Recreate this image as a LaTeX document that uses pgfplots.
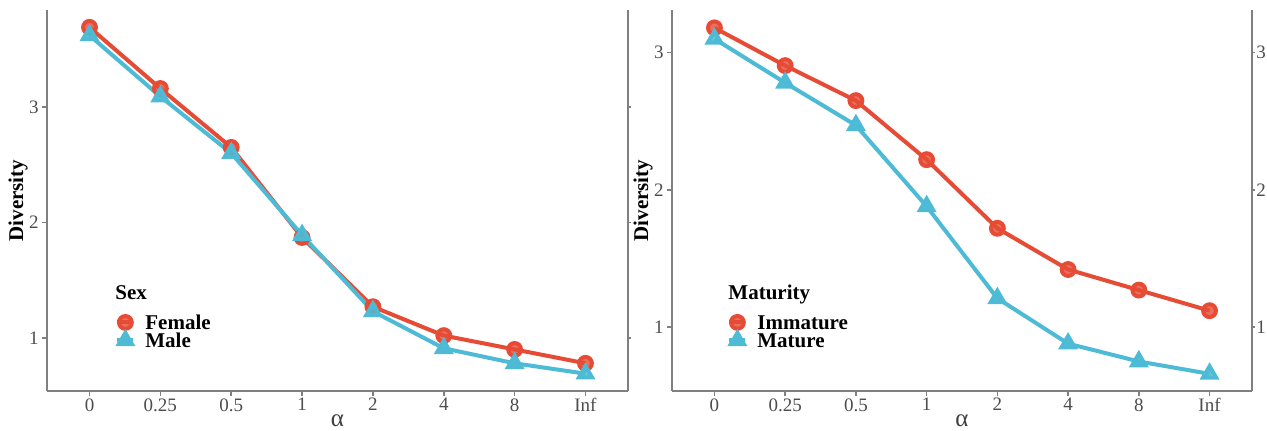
\documentclass[border=0pt]{standalone}
\usepackage{fontspec}
\setmainfont{Liberation Serif}
\usepackage{pgfplots}
\pgfplotsset{compat=1.18}
\definecolor{npgred}{HTML}{E64B35}
\definecolor{npgblue}{HTML}{4DBBD5}
\definecolor{axgray}{HTML}{808080}
\definecolor{tickgray}{HTML}{4D4D4D}

\pgfplotsset{
  common/.style={
    scale only axis, height=190.5pt,
    xmin=-0.6, xmax=7.6,
    tick align=outside, major tick length=2.5pt,
    axis line style={axgray, line width=0.8pt},
    tick style={axgray, line width=0.8pt},
    tick label style={font=\fontsize{9.5}{10}\selectfont, text=tickgray},
    /pgf/number format/assume math mode=true,
    clip=false,
  },
  panel/.style={
    common,
    xtick={0,...,7}, xticklabels={0,0.25,0.5,1,2,4,8,Inf},
    axis x line*=bottom, axis y line*=left,
    xticklabel style={inner sep=1pt},
    yticklabel style={inner sep=1.5pt},
    xlabel={α}, ylabel={\textbf{Diversity}},
    every axis x label/.style={at={(rel axis cs:0.5,0)}, anchor=center, yshift=-15pt, font=\fontsize{12.5}{14}\selectfont, text=tickgray!80!black},
    every axis y label/.style={at={(rel axis cs:0,0.5)}, rotate=90, anchor=center, yshift=14.5pt, font=\fontsize{10.5}{12}\selectfont},
    legend cell align=left,
    legend image code/.code={\draw[mark repeat=2,mark phase=2,##1] plot coordinates {(0pt,0pt) (4pt,0pt) (8pt,0pt)};},
    legend style={draw=none, fill=none, inner sep=0pt, row sep=0pt, column sep=4pt,
      nodes={inner sep=1pt, text height=7pt, text depth=0pt, anchor=west},
      font=\bfseries\fontsize{10.5}{12}\selectfont},
  },
  rside/.style={
    common,
    axis x line=none, axis y line*=right,
    xtick=\empty, major tick length=1.5pt,
    yticklabel style={inner sep=0.5pt},
  },
  redline/.style={npgred, line width=2pt, mark=*, mark size=3.2pt, mark options={solid, fill=npgred, draw=none, fill opacity=0.8}},
  blueline/.style={npgblue, line width=2pt, mark=triangle*, mark size=3.8pt, mark options={solid, fill=npgblue, draw=none, fill opacity=0.85}},
}

\begin{document}
\begin{tikzpicture}
\path[use as bounding box] (0,0) rectangle (633.5pt,215pt);

% Left panel
\begin{axis}[panel, width=290.5pt, at={(23.5pt,19.5pt)}, anchor=south west,
  ymin=0.54, ymax=3.84, ytick={1,2,3},
  legend style={at={(rel axis cs:0.117,0.2047)}, anchor=north west}]
\addplot[redline] coordinates {(0,3.69) (1,3.16) (2,2.65) (3,1.87) (4,1.27) (5,1.02) (6,0.90) (7,0.78)};
\addlegendentry{Female}
\addplot[blueline] coordinates {(0,3.62) (1,3.09) (2,2.60) (3,1.89) (4,1.23) (5,0.91) (6,0.78) (7,0.69)};
\addlegendentry{Male}
\node[anchor=base west, font=\bfseries\fontsize{10.5}{12}\selectfont, inner sep=0pt] at (rel axis cs:0.117,0.239) {Sex};
\end{axis}
\begin{axis}[rside, width=290.5pt, at={(23.5pt,19.5pt)}, anchor=south west,
  ymin=0.54, ymax=3.84, ytick={1,2,3}, yticklabels={,,}]
\end{axis}

% Right panel
\begin{axis}[panel, width=290pt, at={(336pt,19.5pt)}, anchor=south west,
  ymin=0.535, ymax=3.31, ytick={1,2,3},
  legend style={at={(rel axis cs:0.0948,0.2047)}, anchor=north west}]
\addplot[redline] coordinates {(0,3.18) (1,2.905) (2,2.65) (3,2.22) (4,1.72) (5,1.42) (6,1.27) (7,1.12)};
\addlegendentry{Immature}
\addplot[blueline] coordinates {(0,3.10) (1,2.78) (2,2.47) (3,1.88) (4,1.21) (5,0.88) (6,0.75) (7,0.66)};
\addlegendentry{Mature}
\node[anchor=base west, font=\bfseries\fontsize{10.5}{12}\selectfont, inner sep=0pt] at (rel axis cs:0.0966,0.239) {Maturity};
\end{axis}
\begin{axis}[rside, width=290pt, at={(336pt,19.5pt)}, anchor=south west,
  ymin=0.535, ymax=3.31, ytick={1,2,3}]
\end{axis}
\end{tikzpicture}
\end{document}
